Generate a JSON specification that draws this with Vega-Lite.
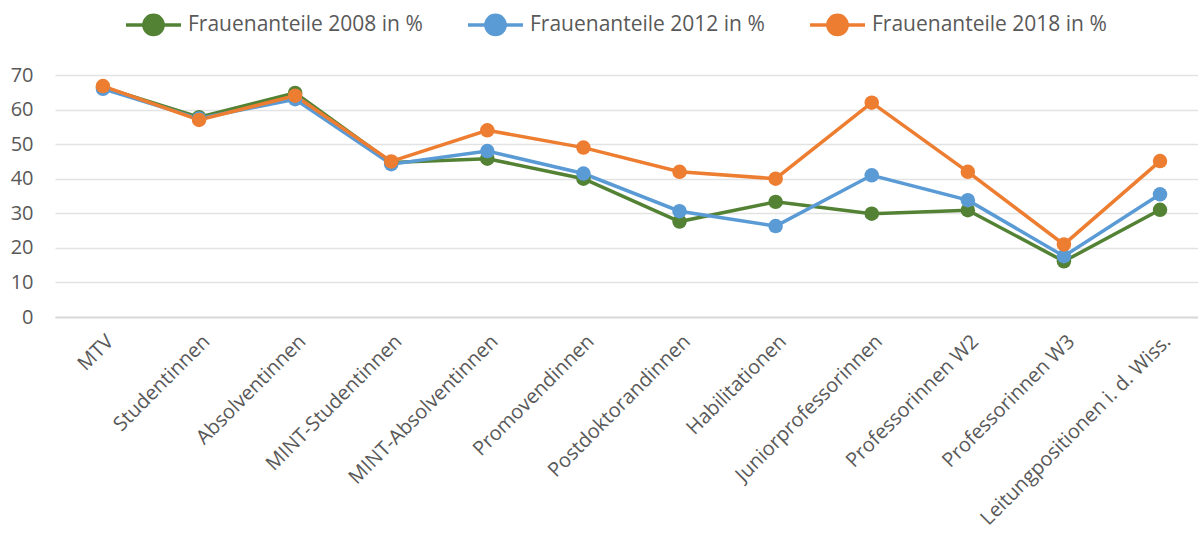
{
  "$schema": "https://vega.github.io/schema/vega-lite/v6.json",
  "autosize": "none",
  "width": 1143,
  "height": 242,
  "padding": {"left": 55, "top": 75, "right": 0, "bottom": 223},
  "background": "white",
  "config": {
    "view": {"stroke": null},
    "font": "Open Sans"
  },
  "data": {
    "values": [
      {"k": "MTV", "s": "Frauenanteile 2008 in %", "v": 66.5},
      {"k": "Studentinnen", "s": "Frauenanteile 2008 in %", "v": 57.8},
      {"k": "Absolventinnen", "s": "Frauenanteile 2008 in %", "v": 64.8},
      {"k": "MINT-Studentinnen", "s": "Frauenanteile 2008 in %", "v": 44.7},
      {"k": "MINT-Absolventinnen", "s": "Frauenanteile 2008 in %", "v": 45.8},
      {"k": "Promovendinnen", "s": "Frauenanteile 2008 in %", "v": 40},
      {"k": "Postdoktorandinnen", "s": "Frauenanteile 2008 in %", "v": 27.6},
      {"k": "Habilitationen", "s": "Frauenanteile 2008 in %", "v": 33.3},
      {"k": "Juniorprofessorinnen", "s": "Frauenanteile 2008 in %", "v": 29.9},
      {"k": "Professorinnen W2", "s": "Frauenanteile 2008 in %", "v": 30.9},
      {"k": "Professorinnen W3", "s": "Frauenanteile 2008 in %", "v": 16.1},
      {"k": "Leitungpositionen i. d. Wiss.", "s": "Frauenanteile 2008 in %", "v": 31},
      {"k": "MTV", "s": "Frauenanteile 2012 in %", "v": 66},
      {"k": "Studentinnen", "s": "Frauenanteile 2012 in %", "v": 57.4},
      {"k": "Absolventinnen", "s": "Frauenanteile 2012 in %", "v": 63},
      {"k": "MINT-Studentinnen", "s": "Frauenanteile 2012 in %", "v": 44.2},
      {"k": "MINT-Absolventinnen", "s": "Frauenanteile 2012 in %", "v": 48},
      {"k": "Promovendinnen", "s": "Frauenanteile 2012 in %", "v": 41.5},
      {"k": "Postdoktorandinnen", "s": "Frauenanteile 2012 in %", "v": 30.6},
      {"k": "Habilitationen", "s": "Frauenanteile 2012 in %", "v": 26.3},
      {"k": "Juniorprofessorinnen", "s": "Frauenanteile 2012 in %", "v": 41},
      {"k": "Professorinnen W2", "s": "Frauenanteile 2012 in %", "v": 33.8},
      {"k": "Professorinnen W3", "s": "Frauenanteile 2012 in %", "v": 17.6},
      {"k": "Leitungpositionen i. d. Wiss.", "s": "Frauenanteile 2012 in %", "v": 35.5},
      {"k": "MTV", "s": "Frauenanteile 2018 in %", "v": 66.8},
      {"k": "Studentinnen", "s": "Frauenanteile 2018 in %", "v": 57},
      {"k": "Absolventinnen", "s": "Frauenanteile 2018 in %", "v": 64},
      {"k": "MINT-Studentinnen", "s": "Frauenanteile 2018 in %", "v": 45},
      {"k": "MINT-Absolventinnen", "s": "Frauenanteile 2018 in %", "v": 54},
      {"k": "Promovendinnen", "s": "Frauenanteile 2018 in %", "v": 49},
      {"k": "Postdoktorandinnen", "s": "Frauenanteile 2018 in %", "v": 42},
      {"k": "Habilitationen", "s": "Frauenanteile 2018 in %", "v": 40},
      {"k": "Juniorprofessorinnen", "s": "Frauenanteile 2018 in %", "v": 62},
      {"k": "Professorinnen W2", "s": "Frauenanteile 2018 in %", "v": 42},
      {"k": "Professorinnen W3", "s": "Frauenanteile 2018 in %", "v": 21},
      {"k": "Leitungpositionen i. d. Wiss.", "s": "Frauenanteile 2018 in %", "v": 45.1}
    ]
  },
  "encoding": {
    "x": {
      "field": "k",
      "type": "nominal",
      "sort": null,
      "scale": {"type": "point", "padding": 0.447, "align": 0.558},
      "axis": {
        "title": null,
        "labelAngle": -45,
        "labelAlign": "right",
        "labelBaseline": "top",
        "labelFontSize": 20,
        "labelColor": "#595959",
        "labelPadding": 14,
        "ticks": false,
        "domainColor": "#d9d9d9",
        "domainWidth": 2,
        "grid": false,
        "labelLimit": 400
      }
    },
    "y": {
      "field": "v",
      "type": "quantitative",
      "scale": {"domain": [0, 70], "nice": false},
      "axis": {
        "title": null,
        "values": [0, 10, 20, 30, 40, 50, 60, 70],
        "labelFontSize": 20,
        "labelColor": "#595959",
        "labelPadding": 22,
        "ticks": false,
        "domain": false,
        "gridColor": "#e3e3e3",
        "gridWidth": 1.3
      }
    },
    "color": {
      "field": "s",
      "type": "nominal",
      "scale": {"range": ["#548235", "#5b9bd5", "#ed7d31"]},
      "legend": {
        "orient": "none",
        "legendX": 69,
        "legendY": -80,
        "padding": 0,
        "direction": "horizontal",
        "title": null,
        "symbolType": "M-1,0L1,0M-0.35,0A0.35,0.35 0 1,1 0.35,0A0.35,0.35 0 1,1 -0.35,0Z",
        "symbolSize": 3025,
        "symbolStrokeWidth": 3.5,
        "labelFontSize": 21,
        "labelColor": "#595959",
        "labelOffset": 5,
        "columnPadding": 38,
        "labelLimit": 400,
        "encode": {
          "symbols": {"update": {"fill": {"scale": "color", "field": "value"}}}
        }
      }
    }
  },
  "layer": [
    {
      "mark": {"type": "line", "strokeWidth": 3.5}
    },
    {
      "mark": {"type": "point", "filled": true, "opacity": 1},
      "encoding": {
        "size": {
          "field": "s",
          "type": "nominal",
          "scale": {"range": [210, 210, 380]},
          "legend": null
        }
      }
    }
  ]
}
